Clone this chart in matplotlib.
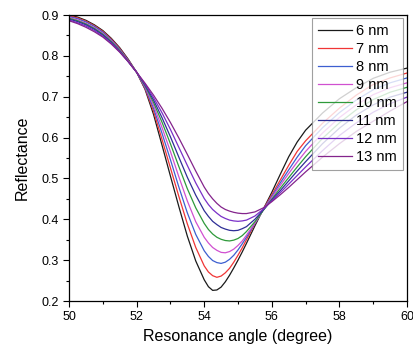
import matplotlib
matplotlib.use("Agg")
import matplotlib.pyplot as plt
from matplotlib.ticker import MultipleLocator

plt.rcParams['font.family'] = ['Liberation Sans', 'DejaVu Sans']

angle = [50, 50.25, 50.5, 50.75, 51, 51.25, 51.5, 51.75, 52, 52.25, 52.5, 52.75,
         53, 53.25, 53.5, 53.75, 54, 54.125, 54.25, 54.375, 54.5, 54.625, 54.75, 54.875,
         55, 55.125, 55.25, 55.5, 55.75, 56, 56.25, 56.5, 56.75, 57,
         57.5, 58, 58.5, 59, 59.5, 60]

r_6nm = [.900, .895, .887, .876, .862, .843, .820, .792, .760, .718, .657, .582,
         .506, .431, .359, .298, .252, .235, .226, .227, .234, .247, .263, .281,
         .300, .320, .341, .384, .425, .466, .510, .553, .589, .618,
         .660, .695, .722, .745, .760, .770]
r_7nm = [.898, .893, .885, .874, .860, .841, .818, .790, .760, .720, .665, .596,
         .526, .456, .389, .331, .286, .271, .262, .258, .261, .269, .280, .295,
         .312, .330, .350, .389, .425, .460, .496, .532, .566, .592,
         .635, .672, .704, .730, .746, .758]
r_8nm = [.896, .891, .883, .872, .858, .839, .816, .789, .760, .722, .672, .611,
         .546, .479, .416, .363, .323, .309, .299, .294, .292, .295, .302, .312,
         .325, .340, .356, .390, .424, .456, .489, .521, .552, .580,
         .624, .661, .692, .717, .734, .746]
r_9nm = [.894, .888, .880, .869, .855, .837, .814, .788, .760, .725, .679, .625,
         .566, .504, .445, .394, .356, .342, .331, .324, .319, .318, .321, .327,
         .336, .347, .361, .391, .423, .453, .483, .512, .540, .566,
         .611, .649, .680, .705, .722, .734]
r_10nm = [.892, .886, .878, .867, .853, .835, .813, .787, .760, .727, .686, .638,
          .585, .529, .475, .428, .390, .375, .364, .356, .351, .348, .347, .349,
          .353, .360, .370, .394, .422, .449, .476, .502, .528, .553,
          .598, .636, .668, .693, .711, .723]
r_11nm = [.890, .884, .876, .865, .851, .833, .811, .786, .760, .729, .692, .649,
          .602, .552, .503, .459, .421, .407, .395, .387, .380, .376, .373, .372,
          .373, .377, .382, .400, .423, .447, .470, .494, .518, .541,
          .585, .623, .655, .680, .699, .711]
r_12nm = [.888, .881, .873, .862, .848, .831, .810, .786, .760, .731, .698, .661,
          .620, .576, .532, .489, .451, .436, .424, .415, .407, .402, .398, .396,
          .395, .396, .398, .408, .425, .445, .465, .486, .507, .528,
          .568, .605, .636, .662, .683, .699]
r_13nm = [.886, .879, .870, .859, .846, .829, .809, .786, .760, .733, .704, .672,
          .637, .599, .559, .518, .479, .463, .450, .439, .430, .424, .420, .417,
          .415, .414, .414, .418, .428, .443, .460, .478, .497, .516,
          .552, .585, .615, .640, .665, .688]

labels = ['6 nm', '7 nm', '8 nm', '9 nm', '10 nm', '11 nm', '12 nm', '13 nm']
series = [r_6nm, r_7nm, r_8nm, r_9nm, r_10nm, r_11nm, r_12nm, r_13nm]
colors = ['#1a1a1a', '#f03535', '#3d5fd0', '#d050d0', '#2e9a3a', '#2e2e96', '#7a30c8', '#84248c']

fig = plt.figure(figsize=(4.14, 3.47), dpi=100)
ax = fig.add_axes([69/414, 1-301/347, 338/414, 286/347])

for y, c, lab in zip(series, colors, labels):
    ax.plot(angle, y, color=c, lw=0.9, label=lab, solid_joinstyle='round')

ax.set_xlim(50, 60)
ax.set_ylim(0.2, 0.9)
ax.xaxis.set_major_locator(MultipleLocator(2))
ax.xaxis.set_minor_locator(MultipleLocator(1))
ax.yaxis.set_major_locator(MultipleLocator(0.1))
ax.yaxis.set_minor_locator(MultipleLocator(0.05))
ax.tick_params(which='both', direction='out', top=False, right=False, labelsize=9, width=0.8)
ax.tick_params(which='major', length=4)
ax.tick_params(which='minor', length=2.5)
for s in ax.spines.values():
    s.set_linewidth(0.9)

ax.set_xlabel('Resonance angle (degree)', fontsize=11.5, labelpad=4)
ax.set_ylabel('Reflectance', fontsize=11.5, labelpad=8)

leg = ax.legend(loc='upper right', bbox_to_anchor=(0.988, 0.990), borderaxespad=0,
                fontsize=10.5, handlelength=2.3, handletextpad=0.3, labelspacing=0.28,
                frameon=True, fancybox=False, edgecolor='#888888', borderpad=0.4)
leg.get_frame().set_linewidth(0.8)

fig.savefig('out.png', dpi=100)
